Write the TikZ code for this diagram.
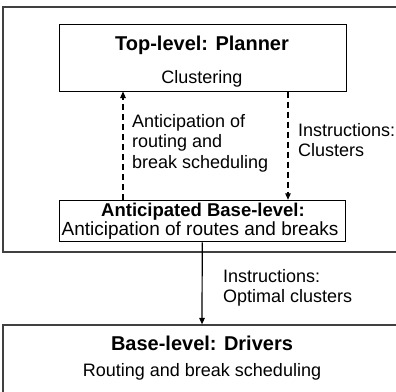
\documentclass[tikz,border=0pt]{standalone}
\usepackage{fontspec}
\setmainfont{Liberation Sans}
\usetikzlibrary{arrows.meta}
\begin{document}
\begin{tikzpicture}
  [x=1pt,y=-1pt,
   frameN/.style={draw=black!75,line width=1.2pt,inner sep=0pt},
   boxN/.style={draw,line width=1pt,inner sep=0pt},
   headT/.style={inner sep=0pt,font=\fontsize{20}{22}\selectfont\bfseries},
   smallHeadT/.style={inner sep=0pt,font=\fontsize{18.5}{21}\selectfont\bfseries},
   bodyT/.style={inner sep=0pt,font=\fontsize{18}{20.5}\selectfont},
   dashA/.style={line width=1.1pt,dash pattern=on 6pt off 4pt,-{Triangle[width=5.5pt,length=6.5pt]}},
   solidA/.style={line width=1.2pt,-{Triangle[width=5.5pt,length=6.5pt]}},
  ]
 \useasboundingbox (0,0) rectangle (396,391);
 \clip (0,0) rectangle (396,391);

 % frames
 \node[frameN,minimum width=398pt,minimum height=245pt] (upper) at (202,129.5) {};
 \node[frameN,minimum width=398pt,minimum height=80pt] (base) at (202,365) {};

 % boxes
 \node[boxN,minimum width=287pt,minimum height=66.5pt] (top) at (202.5,57.75) {};
 \node[boxN,minimum width=285.5pt,minimum height=41.5pt] (ant) at (202.25,221) {};

 % texts
 \node[headT,anchor=base] (topTitle) at (202,50) {Top-level: Planner};
 \node[bodyT,anchor=base] (topSub) at (202,83) {Clustering};
 \node[smallHeadT,anchor=base] (antTitle) at (203,216.5) {Anticipated Base-level:};
 \node[bodyT,anchor=base,font=\fontsize{19}{21}\selectfont] (antSub) at (200,235) {Anticipation of routes and breaks};
 \node[headT,anchor=base] (baseTitle) at (202,350) {Base-level: Drivers};
 \node[bodyT,anchor=base] (baseSub) at (202,376) {Routing and break scheduling};

 \node[bodyT,align=left,anchor=north west] (antLbl) at (132,113.8) {Anticipation of\\routing and\\break scheduling};
 \node[bodyT,align=left,anchor=north west] (clusLbl) at (298,123) {Instructions:\\Clusters};
 \node[bodyT,align=left,anchor=north west] (optLbl) at (223,268.8) {Instructions:\\Optimal clusters};

 % arrows
 \coordinate (lx) at (123,0);
 \coordinate (rx) at (288,0);
 \draw[dashA] (ant.north -| lx) -- (top.south -| lx);
 \draw[dashA] (top.south -| rx) -- (ant.north -| rx);
 \draw[solidA] (ant.south) -- (base.north);
\end{tikzpicture}
\end{document}
